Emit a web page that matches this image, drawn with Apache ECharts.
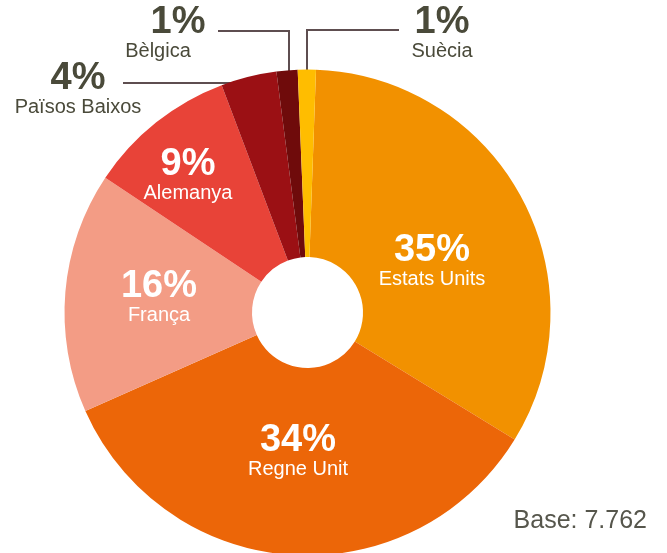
<!DOCTYPE html>
<html>
<head>
<meta charset="utf-8">
<script src="https://cdn.jsdelivr.net/npm/echarts@6/dist/echarts.min.js"></script>
<style>
  html, body { margin: 0; padding: 0; background: #fff; }
  #chart { width: 667px; height: 553px; }
</style>
</head>
<body>
<div id="chart"></div>
<script>
var countries = ['Estats Units', 'Regne Unit', 'França', 'Alemanya', 'Països Baixos', 'Bèlgica', 'Suècia'];
var shares = [33.2, 34.6, 16.0, 9.9, 3.7, 1.4, 1.2];
var pctLabels = ['35%', '34%', '16%', '9%', '4%', '1%', '1%'];
var colors = ['#F29100', '#EC6608', '#F39C85', '#E84338', '#9B1014', '#6F0B0B', '#FFBD00'];
var baseText = 'Base: 7.762';

// label placement (layout only)
var labelPos = [[432, 262], [298, 452], [159, 298], [188, 176], [78, 90], [158, 34], [442, 34]];
var pctShift = { 5: 40 };   // Bèlgica's percent sits right of its name
var linePts = {
  4: [[248, 125], [248, 83], [123, 83]],
  5: [[289, 108], [289, 31], [218, 31]],
  6: [[307, 82], [307, 30], [399, 30]]
};

var font = '"Liberation Sans", Arial, Helvetica, sans-serif';

var chart = echarts.init(document.getElementById('chart'), null, { renderer: 'canvas' });

var seriesData = countries.map(function (name, i) {
  var outside = i >= 4;
  var txtColor = outside ? '#4a4a3a' : '#ffffff';
  return {
    name: name,
    value: shares[i],
    itemStyle: { color: colors[i] },
    label: {
      position: outside ? 'outside' : 'inside',
      overflow: 'none',
      formatter: '{p|' + pctLabels[i] + '}\n{n|' + name + '}',
      rich: {
        p: {
          fontFamily: font, fontSize: 38, fontWeight: 'bold', color: txtColor,
          lineHeight: 34, align: 'center', padding: [0, 0, 0, pctShift[i] || 0]
        },
        n: { fontFamily: font, fontSize: 20, color: txtColor, lineHeight: 22, align: 'center' }
      }
    },
    labelLine: { show: outside }
  };
});

var option = {
  animation: false,
  title: {
    text: baseText,
    right: 15,
    top: 504,
    textStyle: { fontFamily: font, fontSize: 25, fontWeight: 'normal', color: '#56564c' }
  },
  series: [{
    type: 'pie',
    center: [307.5, 312.5],
    radius: [55.5, 243],
    startAngle: 88,
    clockwise: true,
    silent: true,
    avoidLabelOverlap: false,
    itemStyle: { borderWidth: 0 },
    label: { show: true, align: 'center', verticalAlign: 'middle', overflow: 'none' },
    labelLine: {
      lineStyle: { color: '#5e4e50', width: 2 }
    },
    labelLayout: function (params) {
      var i = params.dataIndex;
      var res = { x: labelPos[i][0], y: labelPos[i][1], align: 'center', verticalAlign: 'middle' };
      if (linePts[i]) res.labelLinePoints = linePts[i];
      return res;
    },
    data: seriesData
  }]
};

chart.setOption(option);
</script>
</body>
</html>
